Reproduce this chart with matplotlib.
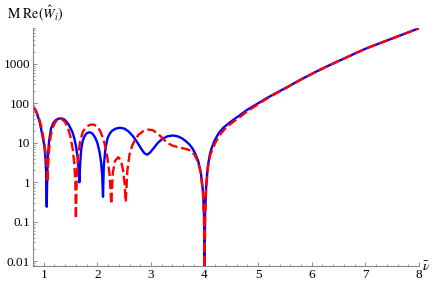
import matplotlib
matplotlib.use("Agg")
import matplotlib.pyplot as plt
from matplotlib.ticker import FixedLocator, FixedFormatter, LogLocator, NullFormatter

plt.rcParams['font.family'] = ['Liberation Serif', 'DejaVu Serif']
plt.rcParams['mathtext.fontset'] = 'stix'

# values (nu-bar, M Re(W_i))
nu_blue = [0.80, 0.84, 0.88, 0.92, 0.95, 0.98, 1.01, 1.03, 1.045, 1.056, 1.065, 1.08,
           1.10, 1.136, 1.18, 1.23, 1.28, 1.32, 1.37, 1.42, 1.47, 1.51, 1.54, 1.57,
           1.60, 1.63, 1.65, 1.665, 1.68, 1.70, 1.73, 1.77, 1.81, 1.86, 1.91, 1.96,
           2.00, 2.04, 2.07, 2.09, 2.106, 2.12, 2.15, 2.19, 2.23, 2.28, 2.35, 2.42,
           2.50, 2.58, 2.66, 2.74, 2.82, 2.88, 2.93, 2.98, 3.05, 3.13, 3.22, 3.31,
           3.41, 3.50, 3.58, 3.65, 3.72, 3.78, 3.83, 3.88, 3.93, 3.97, 3.99, 4.00,
           4.01, 4.03, 4.06, 4.10, 4.13, 4.19, 4.27, 4.35, 4.45, 4.53, 4.65, 4.80,
           5.00, 5.15, 5.35, 5.55, 5.78, 6.00, 6.20, 6.40, 6.60, 6.80, 7.02, 7.25,
           7.50, 7.75, 8.00]
w_blue = [80, 70, 52, 35, 23, 14, 8.7, 4.5, 1.8, 0.24, 1.5, 5,
          11, 23, 32, 38, 41, 41.5, 40, 35, 28, 22, 18, 13,
          8.5, 4.5, 2.2, 1.0, 3, 7, 11.5, 15.5, 17.8, 18.5, 17, 13.5,
          10, 6, 3.2, 1.5, 0.43, 2.5, 7, 13, 17, 20.5, 23, 24,
          23, 19.5, 15, 10.5, 7, 5.4, 5.0, 5.6, 7.3, 10, 12.8, 14.6,
          15.3, 14.5, 13, 11, 9, 7, 5.2, 3.5, 1.8, 0.6, 0.15, 0.007,
          0.15, 0.8, 2.5, 5.2, 7.2, 11.7, 18, 24, 31, 37.6, 49, 69,
          100, 133, 187, 260, 389, 555, 760, 1020, 1350, 1810, 2460, 3240,
          4370, 5890, 7940]

nu_red = [0.80, 0.84, 0.88, 0.92, 0.95, 0.98, 1.01, 1.04, 1.06, 1.072, 1.085, 1.10,
          1.13, 1.17, 1.22, 1.27, 1.31, 1.35, 1.40, 1.45, 1.50, 1.54, 1.57, 1.59,
          1.60, 1.615, 1.64, 1.68, 1.73, 1.79, 1.86, 1.93, 2.00, 2.06, 2.11, 2.15,
          2.19, 2.23, 2.26, 2.29, 2.33, 2.39, 2.44, 2.48, 2.51, 2.53, 2.56, 2.60,
          2.65, 2.70, 2.77, 2.85, 2.94, 3.03, 3.12, 3.22, 3.30, 3.40, 3.54, 3.65,
          3.75, 3.82, 3.88, 3.93, 3.97, 3.99, 4.00, 4.01, 4.03, 4.06, 4.10, 4.14,
          4.20, 4.28, 4.36, 4.45, 4.53, 4.65, 4.80, 5.00, 5.15, 5.35, 5.55, 5.78,
          6.00, 6.20, 6.40, 6.60, 6.80, 7.02, 7.25, 7.50, 7.75, 8.00]
w_red = [80, 70, 54, 38, 27, 17, 9.5, 5, 2.2, 1.0, 3, 7,
         15, 25, 34, 40, 41, 39, 33, 24, 14, 7, 3, 1.0,
         0.12, 1.2, 4.5, 11, 19, 25, 28.5, 29, 26, 19, 12.5, 8,
         4, 1.5, 0.28, 1.8, 3.5, 4.3, 3.6, 2, 0.9, 0.32, 2, 5,
         8.5, 11.7, 16, 19.5, 21.5, 21, 17.5, 12.9, 10, 8.5, 7.5, 7.0,
         6.3, 4.8, 3.2, 1.7, 0.55, 0.14, 0.007, 0.14, 0.7, 2.2, 4.6, 6.5,
         10, 15.5, 21, 27.5, 33.5, 44, 63, 95, 128, 183, 257, 386,
         553, 758, 1018, 1348, 1808, 2460, 3240, 4370, 5890, 7940]

ytick_vals = [0.01, 0.1, 1, 10, 100, 1000]
ytick_labels = ['0.01', '0.1', '1', '10', '100', '1000']
xtick_vals = [1, 2, 3, 4, 5, 6, 7, 8]

fig = plt.figure(figsize=(4.36, 2.84), dpi=100)
ax = fig.add_axes([0.0757, 0.0634, 0.8853, 0.8376])

ax.plot(nu_blue, w_blue, color='#0000ff', lw=1.7, solid_joinstyle='round')
ax.plot(nu_red, w_red, color='#ff0000', lw=1.7, dashes=(4.0, 1.6), dash_joinstyle='round')

ax.set_yscale('log')
ax.set_xlim(0.8, 8.0)
ax.set_ylim(0.0076, 8000)

ax.yaxis.set_major_locator(FixedLocator(ytick_vals))
ax.yaxis.set_major_formatter(FixedFormatter(ytick_labels))
ax.yaxis.set_minor_locator(LogLocator(base=10, subs=range(2, 10), numticks=20))
ax.yaxis.set_minor_formatter(NullFormatter())
ax.set_xticks(xtick_vals)
ax.set_xticklabels([str(v) for v in xtick_vals])
ax.set_xticks([v / 5 for v in range(4, 41) if v % 5], minor=True)

for s in ['top', 'right']:
    ax.spines[s].set_visible(False)
for s in ['left', 'bottom']:
    ax.spines[s].set_color('#888888')
    ax.spines[s].set_linewidth(0.8)
ax.tick_params(which='both', direction='in', colors='#888888', labelcolor='black', labelsize=9.5)
ax.tick_params(which='major', length=3, width=0.7, pad=2)
ax.tick_params(which='minor', length=1.6, width=0.6)

fig.text(0.016, 0.935, r'$\mathrm{M\ Re}(\hat{W}_i)$', fontsize=10, ha='left', va='baseline')
fig.text(0.968, 0.045, r'$\bar{\nu}$', fontsize=10, ha='left', va='baseline')

fig.savefig('out.png', dpi=100)
